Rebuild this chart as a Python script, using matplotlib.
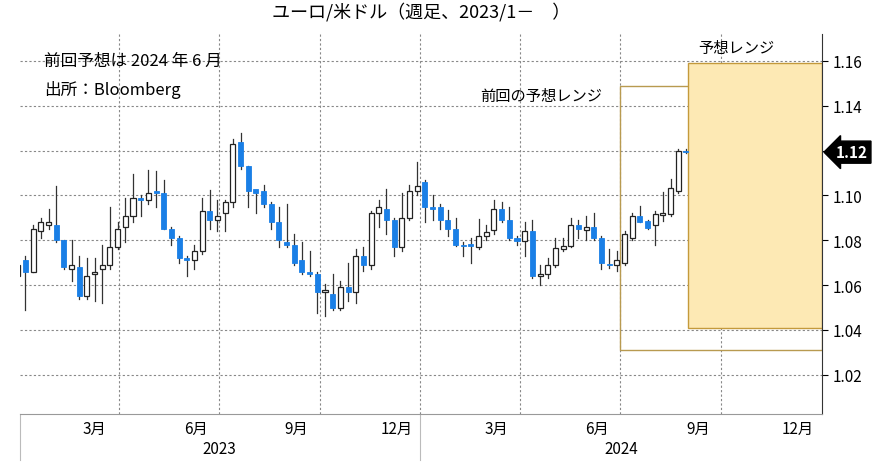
import matplotlib
matplotlib.use("Agg")
import matplotlib.pyplot as plt
from matplotlib.patches import Rectangle
import numpy as np
import datetime as dt

plt.rcParams['font.family'] = ['Noto Sans CJK JP', 'DejaVu Sans']

opens = [1.064,1.071,1.066,1.084,1.087,1.087,1.080,1.067,1.068,1.055,1.065,1.067,1.069,1.077,1.086,1.091,1.099,1.098,1.102,1.101,1.085,1.081,1.072,1.071,1.075,1.093,1.089,
         1.092,1.097,1.124,1.113,1.103,1.102,1.096,1.088,1.079,1.078,1.071,1.066,1.065,1.057,1.056,1.050,1.059,1.057,1.073,1.069,1.092,1.094,1.089,1.077,1.090,1.102,
         1.106,1.095,1.095,1.089,1.085,1.078,1.0785,1.077,1.082,1.0845,1.094,1.089,1.081,1.0795,1.084,1.064,1.065,1.069,1.076,1.0775,1.087,1.0845,1.086,1.081,1.0695,1.069,
         1.070,1.081,1.0906,1.0886,1.0866,1.0913,1.0918,1.102,1.1197]
closes = [1.069,1.066,1.085,1.088,1.088,1.080,1.068,1.069,1.055,1.064,1.066,1.069,1.077,1.085,1.091,1.099,1.098,1.101,1.101,1.085,1.081,1.072,1.071,1.075,1.093,1.089,1.091,
          1.097,1.123,1.113,1.102,1.101,1.096,1.088,1.080,1.078,1.070,1.066,1.065,1.057,1.058,1.050,1.059,1.057,1.073,1.069,1.092,1.095,1.089,1.077,1.090,1.102,1.104,
          1.095,1.094,1.089,1.085,1.078,1.0775,1.0775,1.082,1.0835,1.094,1.089,1.081,1.0795,1.084,1.064,1.065,1.069,1.0765,1.0775,1.087,1.085,1.086,1.081,1.070,1.069,1.071,
          1.083,1.091,1.088,1.0856,1.0917,1.0922,1.1032,1.1197,1.1193]
highs = [1.071,1.073,1.087,1.090,1.094,1.104,1.080,1.080,1.073,1.072,1.072,1.078,1.095,1.088,1.099,1.1095,1.100,1.1115,1.111,1.107,1.086,1.082,1.073,1.078,1.099,1.1025,1.098,
         1.098,1.125,1.128,1.113,1.1025,1.1045,1.097,1.095,1.096,1.083,1.079,1.075,1.066,1.0605,1.065,1.062,1.070,1.076,1.077,1.093,1.098,1.103,1.090,1.101,1.1046,1.1147,
         1.107,1.100,1.096,1.0935,1.090,1.079,1.081,1.0895,1.087,1.098,1.097,1.095,1.082,1.088,1.089,1.069,1.072,1.081,1.081,1.090,1.089,1.091,1.092,1.082,1.076,1.075,
         1.084,1.092,1.0955,1.089,1.093,1.1015,1.1074,1.1207,1.1205]
lows = [1.061,1.049,1.066,1.081,1.085,1.079,1.067,1.062,1.054,1.054,1.053,1.052,1.067,1.076,1.079,1.088,1.091,1.096,1.095,1.085,1.078,1.070,1.064,1.067,1.074,1.085,1.084,
        1.084,1.095,1.112,1.095,1.092,1.095,1.085,1.077,1.077,1.069,1.065,1.064,1.0475,1.046,1.049,1.049,1.053,1.052,1.0665,1.067,1.086,1.083,1.073,1.075,1.089,1.100,
        1.088,1.089,1.085,1.082,1.0775,1.073,1.070,1.076,1.080,1.083,1.088,1.080,1.078,1.073,1.063,1.060,1.063,1.068,1.075,1.077,1.081,1.080,1.080,1.067,1.0675,1.0665,
        1.069,1.080,1.088,1.085,1.078,1.0888,1.091,1.101,1.119]

first_week = dt.date(2022, 12, 30)
prev_range = (dt.date(2024, 7, 1), dt.date(2025, 1, 1), 1.031, 1.149)
new_range = (dt.date(2024, 9, 1), dt.date(2025, 1, 1), 1.041, 1.159)
yticks = [1.02, 1.04, 1.06, 1.08, 1.10, 1.12, 1.14, 1.16]
last_price_label = "1.12"

base = dt.date(2023, 1, 1)
def d2x(d):
    return (d - base).days

fig = plt.figure(figsize=(8.87, 4.77), dpi=100)
ax = fig.add_axes([20/887, 62/477, 802/887, 380/477])
ax.set_xlim(0, 731)
ax.set_ylim(1.0025, 1.172)

x0, x1, y0, y1 = prev_range
ax.add_patch(Rectangle((d2x(x0), y0), d2x(x1)-d2x(x0), y1-y0, fill=False, ec='#b89a50', lw=1.0, zorder=1))
x0, x1, y0, y1 = new_range
ax.add_patch(Rectangle((d2x(x0), y0), d2x(x1)-d2x(x0), y1-y0, fc='#fde9b4', ec='#c49a3c', lw=1.0, zorder=1))

blue = '#1a7fe6'
w = 4.6
for i, (o, c, h, l) in enumerate(zip(opens, closes, highs, lows)):
    x = d2x(first_week) + 7*i
    ax.plot([x, x], [l, h], color='#333333', lw=0.9, zorder=2)
    lo, hi = min(o, c), max(o, c)
    hgt = max(hi - lo, 0.0006)
    if c >= o:
        ax.add_patch(Rectangle((x - w/2, lo), w, hgt, fc='white', ec='#222222', lw=0.9, zorder=3))
    else:
        ax.add_patch(Rectangle((x - w/2, lo), w, hgt, fc=blue, ec=blue, lw=0.6, zorder=3))

for y in yticks:
    ax.axhline(y, color='#888888', ls=(0, (2, 2)), lw=0.8, zorder=0)
for m in [(2023,4),(2023,7),(2023,10),(2024,1),(2024,4),(2024,7),(2024,10)]:
    ax.axvline(d2x(dt.date(*m, 1)), color='#888888', ls=(0, (2, 2)), lw=0.8, zorder=0)

ax.yaxis.tick_right()
ax.set_yticks(yticks)
ax.set_yticklabels(['' if f"{v:.2f}" == last_price_label else f"{v:.2f}" for v in yticks], fontsize=11)
ax.tick_params(axis='y', length=4, direction='out', pad=4)
for s in ['top', 'left']:
    ax.spines[s].set_visible(False)
ax.spines['bottom'].set_color('#999999')
ax.spines['right'].set_color('#333333')

months = [(2023,3,'3月'),(2023,6,'6月'),(2023,9,'9月'),(2023,12,'12月'),
          (2024,3,'3月'),(2024,6,'6月'),(2024,9,'9月'),(2024,12,'12月')]
ax.set_xticks([d2x(dt.date(y, m, 10)) for y, m, _ in months])
ax.set_xticklabels([t for _, _, t in months], fontsize=11)
ax.tick_params(axis='x', length=0, pad=4)
for yr, xc in [('2023', d2x(dt.date(2023, 7, 2))), ('2024', d2x(dt.date(2024, 7, 2)))]:
    ax.text(xc, -0.09, yr, transform=ax.get_xaxis_transform(), ha='center', va='center', fontsize=11)
for xl in [0, d2x(dt.date(2024, 1, 1))]:
    ax.plot([xl, xl], [0, -0.12], transform=ax.get_xaxis_transform(), color='#bbbbbb', lw=0.8, clip_on=False)

ax.text(0.5, 1.035, 'ユーロ/米ドル（週足、2023/1－　）', transform=ax.transAxes, ha='center', va='bottom', fontsize=13)
ax.text(0.03, 0.93, '前回予想は 2024 年 6 月', transform=ax.transAxes, fontsize=12, va='center')
ax.text(0.03, 0.855, '出所：Bloomberg', transform=ax.transAxes, fontsize=12, va='center')
ax.text(d2x(dt.date(2024, 10, 15)), 1.166, '予想レンジ', ha='center', va='center', fontsize=11)
ax.text(d2x(dt.date(2024, 4, 20)), 1.1445, '前回の予想レンジ', ha='center', va='center', fontsize=11)

ax.annotate(last_price_label, xy=(1.0, closes[-1]), xycoords=('axes fraction', 'data'),
            xytext=(10, 0), textcoords='offset points', ha='left', va='center',
            color='white', fontsize=11, fontweight='bold',
            bbox=dict(boxstyle='larrow,pad=0.2', fc='black', ec='black'))

fig.savefig('out.png', dpi=100)
